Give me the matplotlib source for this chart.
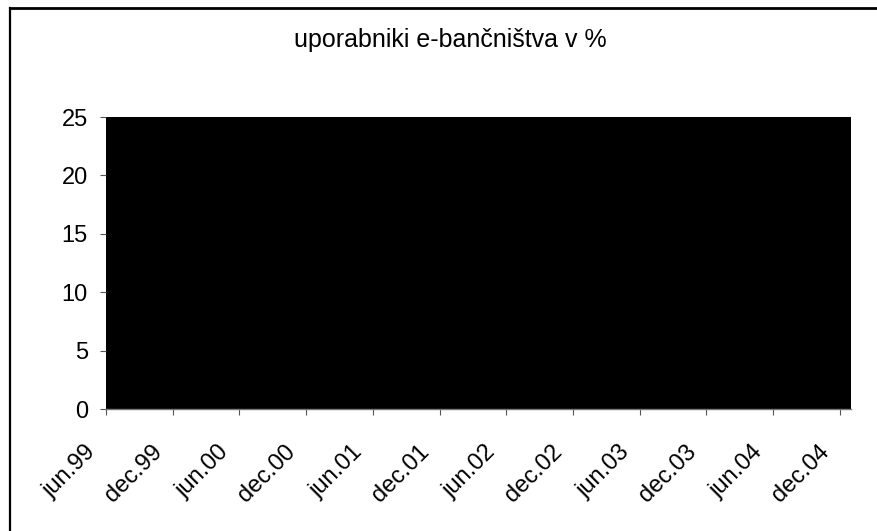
import numpy as np
import matplotlib.pyplot as plt
from matplotlib.lines import Line2D
from matplotlib.transforms import ScaledTranslation

plt.rcParams['font.family'] = ['Liberation Sans', 'DejaVu Sans']

# months counted from jun.99, share of e-banking users in %
months = [0, 6, 12, 18, 24, 30, 36, 42, 48, 54, 60, 66, 67]
users_pct = [25, 25, 25, 25, 25, 25, 25, 25, 25, 25, 25, 25, 25]

tick_months = [0, 6, 12, 18, 24, 30, 36, 42, 48, 54, 60, 66]
tick_labels = ['jun.99', 'dec.99', 'jun.00', 'dec.00', 'jun.01', 'dec.01',
               'jun.02', 'dec.02', 'jun.03', 'dec.03', 'jun.04', 'dec.04']

fig = plt.figure(figsize=(8.78, 5.31), dpi=100)
ax = fig.add_axes([106/878, 1 - 409/531, (851 - 106)/878, (409 - 117)/531])

ax.fill_between(months, 0, users_pct, color='black', linewidth=0)
ax.set_xlim(0, 67)
ax.set_ylim(0, 25)

ax.set_yticks([0, 5, 10, 15, 20, 25])
ax.set_xticks(tick_months)
ax.set_xticklabels(tick_labels, rotation=45, ha='right')
ax.tick_params(axis='y', labelsize=17, length=4, width=0.8, color='#555555', pad=9)
ax.tick_params(axis='x', labelsize=17, length=4, width=0.8, color='#555555', pad=19)
for lbl in ax.get_xticklabels():
    lbl.set_transform(lbl.get_transform() + ScaledTranslation(-0.06, 0, fig.dpi_scale_trans))

for side in ['top', 'right', 'left']:
    ax.spines[side].set_visible(False)
ax.spines['bottom'].set_color('#777777')
ax.spines['bottom'].set_linewidth(1)

fig.text(450/878, 1 - 40/531, 'uporabniki e-bančništva v %', ha='center', va='center', fontsize=18)

# chart frame
fig.add_artist(Line2D([10/878, 10/878], [0, 1 - 8/531], transform=fig.transFigure,
                      color='black', linewidth=1.6))
fig.add_artist(Line2D([10/878, 1], [1 - 8/531, 1 - 8/531], transform=fig.transFigure,
                      color='black', linewidth=2))

fig.savefig('out.png', dpi=100)
